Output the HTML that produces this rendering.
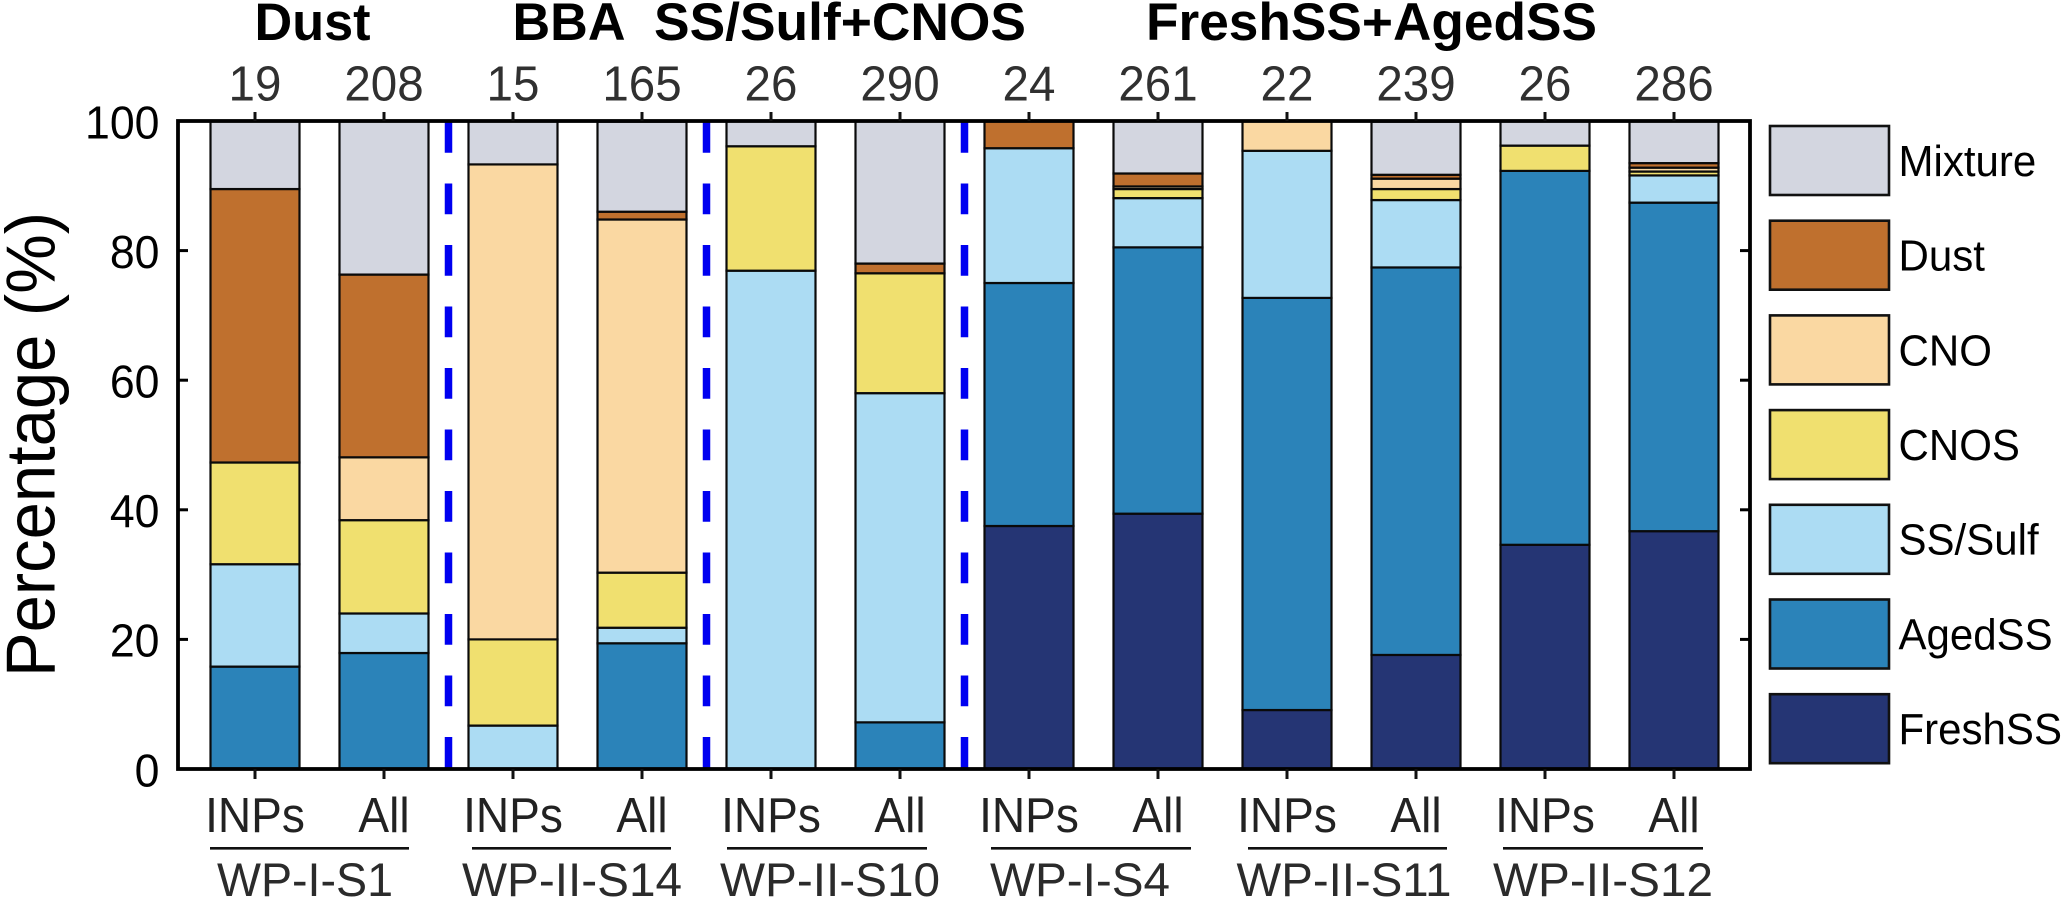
<!DOCTYPE html>
<html lang="en">
<head>
<meta charset="utf-8">
<title>Particle type percentage by sample</title>
<style>
html,body{margin:0;padding:0;background:#fff;}
svg{display:block;font-family:"Liberation Sans",Arial,sans-serif;}
</style>
</head>
<body>
<svg id="chart" xmlns="http://www.w3.org/2000/svg" width="2067" height="899" viewBox="0 0 2067 899">
  <rect x="0" y="0" width="2067" height="899" fill="#fff"/>

  <g id="bars"></g>
  <g id="dividers"></g>
  <g id="axes"></g>
  <g id="legend"></g>

  <text transform="translate(54.5,677) rotate(-90)" font-size="70" textLength="465" lengthAdjust="spacingAndGlyphs" fill="#000">Percentage (%)</text>

  <g font-weight="bold" font-size="53" fill="#000">
    <text x="254.5" y="40" textLength="116" lengthAdjust="spacingAndGlyphs">Dust</text>
    <text x="512.5" y="40" textLength="113" lengthAdjust="spacingAndGlyphs">BBA</text>
    <text x="654" y="40" textLength="372" lengthAdjust="spacingAndGlyphs">SS/Sulf+CNOS</text>
    <text x="1146" y="40" textLength="451" lengthAdjust="spacingAndGlyphs">FreshSS+AgedSS</text>
  </g>

  <g stroke="#111" stroke-width="2.7">
    <line x1="210" x2="409" y1="848.3" y2="848.3"/>
    <line x1="472" x2="671" y1="848.3" y2="848.3"/>
    <line x1="727" x2="927" y1="848.3" y2="848.3"/>
    <line x1="991" x2="1191" y1="848.3" y2="848.3"/>
    <line x1="1248" x2="1447" y1="848.3" y2="848.3"/>
    <line x1="1503" x2="1703" y1="848.3" y2="848.3"/>
  </g>
  <g font-size="47.5" fill="#2b2b2b" text-anchor="middle">
    <text x="305" y="896" textLength="176" lengthAdjust="spacingAndGlyphs">WP-I-S1</text>
    <text x="572" y="896" textLength="220" lengthAdjust="spacingAndGlyphs">WP-II-S14</text>
    <text x="830" y="896" textLength="220" lengthAdjust="spacingAndGlyphs">WP-II-S10</text>
    <text x="1080" y="896" textLength="180" lengthAdjust="spacingAndGlyphs">WP-I-S4</text>
    <text x="1344" y="896" textLength="215" lengthAdjust="spacingAndGlyphs">WP-II-S11</text>
    <text x="1603" y="896" textLength="220" lengthAdjust="spacingAndGlyphs">WP-II-S12</text>
  </g>
</svg>

<script>
// ---- chart data ----
var categories = ["INPs","All","INPs","All","INPs","All","INPs","All","INPs","All","INPs","All"];
var counts     = ["19","208","15","165","26","290","24","261","22","239","26","286"];
var yTicks     = [0,20,40,60,80,100];
var freshSS = [0,    0,    0,    0,    0,    0,    37.5, 39.4, 9.1,  17.6, 34.6, 36.7];
var agedSS  = [15.8, 17.9, 0,    19.4, 0,    7.2,  37.5, 41.1, 63.6, 59.8, 57.7, 50.7];
var ssSulf  = [15.8, 6.1,  6.7,  2.4,  76.9, 50.8, 20.8, 7.6,  22.7, 10.4, 0,    4.2];
var cnos    = [15.7, 14.4, 13.3, 8.5,  19.2, 18.5, 0,    1.4,  0,    1.7,  3.9,  0.6];
var cno     = [0,    9.7,  73.3, 54.5, 0,    0,    0,    0.4,  4.6,  1.6,  0,    0.6];
var dust    = [42.2, 28.2, 0,    1.2,  0,    1.5,  4.2,  2.0,  0,    0.6,  0,    0.7];
var mixture = [10.5, 23.7, 6.7,  13.9, 3.9,  22.0, 0,    8.1,  0,    8.2,  3.8,  6.5];
var seriesNames = ["FreshSS","AgedSS","SS/Sulf","CNOS","CNO","Dust","Mixture"];
var seriesValues = [freshSS, agedSS, ssSulf, cnos, cno, dust, mixture];
var seriesColors = ["#253574","#2b83b9","#acdcf3","#f0e06f","#fad8a2","#bf702e","#d3d6e0"];
var dividerSlots = [1.5,3.5,5.5];

// ---- axis functions ----
var AX_L = 178, AX_R = 1750, AX_T = 121, AX_B = 769;
function xScale(i){ return 255 + 129 * i; }
function yScale(v){ return AX_B - (v / 100) * (AX_B - AX_T); }
function slug(s){ return s.toLowerCase().replace(/[^a-z0-9]+/g,'-'); }

var NS = "http://www.w3.org/2000/svg";
function make(parent, tag, attrs, text){
  var el = document.createElementNS(NS, tag);
  for (var k in attrs) el.setAttribute(k, attrs[k]);
  if (text !== undefined) el.textContent = text;
  parent.appendChild(el);
  return el;
}
function squeeze(el, factor){
  el.setAttribute('textLength', el.getComputedTextLength() * factor);
  el.setAttribute('lengthAdjust', 'spacingAndGlyphs');
}

// ---- bars ----
var barsG = document.getElementById('bars');
var BAR_W = 89;
categories.forEach(function(cat, i){
  var cum = 0;
  seriesValues.forEach(function(vals, s){
    var v = vals[i];
    if (v > 0) {
      var yTop = yScale(cum + v), yBot = yScale(cum);
      var r = make(barsG, 'rect', {x: xScale(i) - BAR_W/2, y: yTop, width: BAR_W, height: yBot - yTop,
        fill: seriesColors[s], stroke: '#0a0a0a', 'stroke-width': 2.2});
      
      
    }
    cum += v;
  });
});

// ---- dashed dividers ----
var divG = document.getElementById('dividers');
dividerSlots.forEach(function(slot, i){
  var l = make(divG, 'line', {x1: xScale(slot), x2: xScale(slot), y1: AX_T + 1, y2: AX_B,
    stroke: '#0000f0', 'stroke-width': 7.5, 'stroke-dasharray': '30.7 30.8'});
  
  
});

// ---- axes ----
var axG = document.getElementById('axes');
var frame = make(axG, 'rect', {x: AX_L, y: AX_T, width: AX_R - AX_L, height: AX_B - AX_T,
  fill: 'none', stroke: '#000', 'stroke-width': 3.8});



yTicks.forEach(function(t){
  var y = yScale(t);
  var tl = make(axG, 'line', {x1: AX_L, x2: AX_L + 10, y1: y, y2: y, stroke: '#000', 'stroke-width': 3});
  
  
  var tr = make(axG, 'line', {x1: AX_R, x2: AX_R - 10, y1: y, y2: y, stroke: '#000', 'stroke-width': 3});
  
  
  var lb = make(axG, 'text', {x: 159.5, y: y + 17.3, 'text-anchor': 'end', 'font-size': 46, fill: '#000'}, String(t));
  
  
  squeeze(lb, 0.97);
});

categories.forEach(function(cat, i){
  var x = xScale(i);
  var bt = make(axG, 'line', {x1: x, x2: x, y1: AX_B, y2: AX_B + 10, stroke: '#111', 'stroke-width': 3});
  
  
  var tt = make(axG, 'line', {x1: x, x2: x, y1: AX_T, y2: AX_T - 9, stroke: '#111', 'stroke-width': 3});
  
  
  var cl = make(axG, 'text', {x: x, y: 832, 'text-anchor': 'middle', 'font-size': 49, fill: '#222'}, cat);
  
  
  squeeze(cl, 0.94);
  var nl = make(axG, 'text', {x: x, y: 100.5, 'text-anchor': 'middle', 'font-size': 49, fill: '#303030'}, counts[i]);
  
  
  squeeze(nl, 0.97);
});

// ---- legend (top to bottom reverses the stack order) ----
var lgG = document.getElementById('legend');
seriesNames.slice().reverse().forEach(function(name, row){
  var s = seriesNames.length - 1 - row;
  var top = 126 + row * 94.7;
  var sw = make(lgG, 'rect', {x: 1770, y: top, width: 119, height: 69,
    fill: seriesColors[s], stroke: '#111', 'stroke-width': 2.6});
  
  
  var tx = make(lgG, 'text', {x: 1898.5, y: top + 49.9, 'font-size': 43.5, fill: '#000'}, name);
  
  
  squeeze(tx, 0.966);
});
</script>
</body>
</html>
